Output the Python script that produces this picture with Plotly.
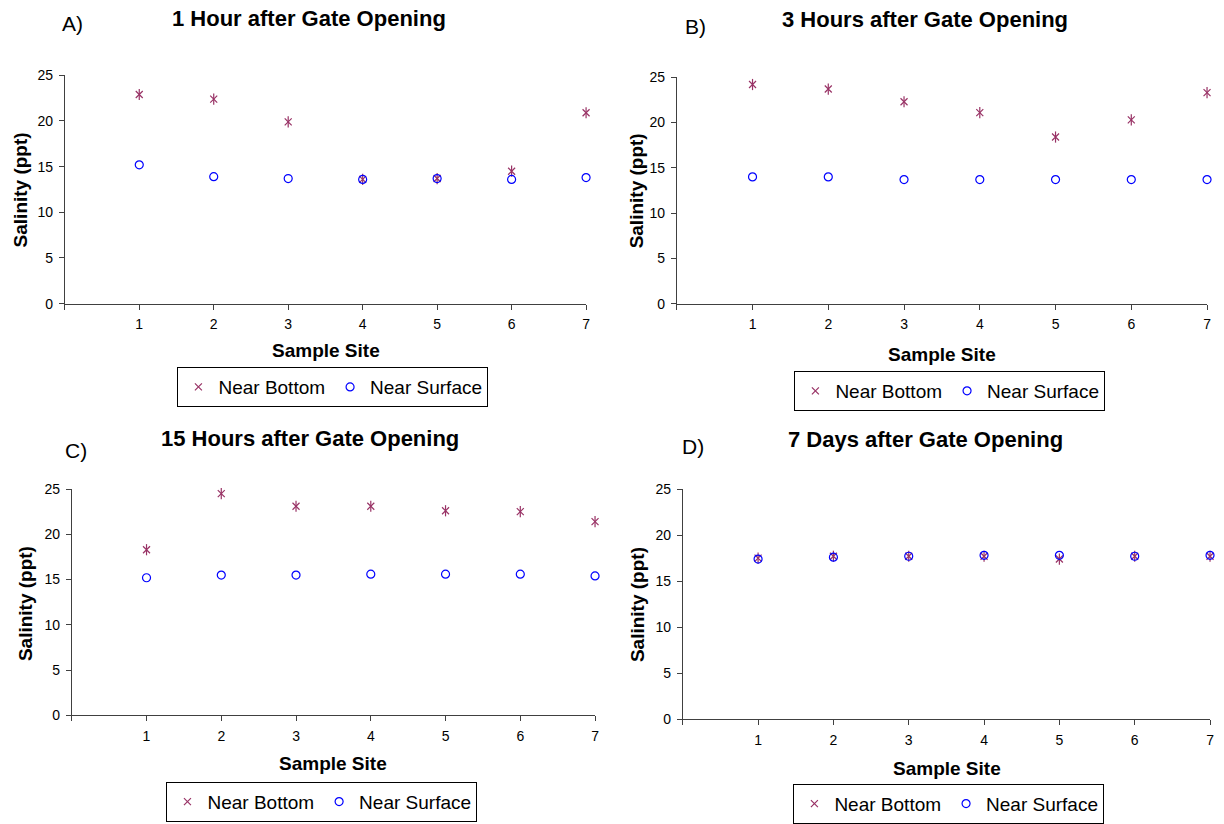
import plotly.graph_objects as go

W, H = 1224, 824

sites = [1, 2, 3, 4, 5, 6, 7]
x_tickvals = [0, 1, 2, 3, 4, 5, 6, 7]
x_ticktext = ["", "1", "2", "3", "4", "5", "6", "7"]

panel_titles = ["1 Hour after Gate Opening", "3 Hours after Gate Opening",
                "15 Hours after Gate Opening", "7 Days after Gate Opening"]
panel_letters = ["A)", "B)", "C)", "D)"]

bottom_a = [22.9, 22.4, 19.9, 13.6, 13.7, 14.5, 20.9]
surface_a = [15.2, 13.9, 13.7, 13.6, 13.7, 13.6, 13.8]
bottom_b = [24.2, 23.7, 22.3, 21.1, 18.4, 20.3, 23.3]
surface_b = [14.0, 14.0, 13.7, 13.7, 13.7, 13.7, 13.7]
bottom_c = [18.3, 24.5, 23.1, 23.1, 22.6, 22.5, 21.4]
surface_c = [15.2, 15.5, 15.5, 15.6, 15.6, 15.6, 15.4]
bottom_d = [17.5, 17.7, 17.7, 17.7, 17.4, 17.7, 17.7]
surface_d = [17.4, 17.6, 17.7, 17.8, 17.8, 17.7, 17.8]

bottoms = [bottom_a, bottom_b, bottom_c, bottom_d]
surfaces = [surface_a, surface_b, surface_c, surface_d]

FONT = "Liberation Sans, Arial, sans-serif"
BOTTOM_COLOR = "#993366"
SURFACE_COLOR = "#0000FF"
AXIS_COLOR = "#404040"


def px(x):
    return x / W


def py(y):
    return 1 - y / H


# plot-area pixel boxes: (left, right, top, bottom)
boxes = [
    (65, 588, 69, 303),
    (679, 1211, 71, 303),
    (72, 597, 493, 725),
    (685, 1214, 493, 729),
]
title_pos = [(310, 11), (928, 12), (311, 441), (929, 442)]
letter_pos = [(73, 16), (698, 19), (76, 453), (695, 449)]
xtitle_pos = [(327, 351), (945, 355), (334, 774), (950, 779)]
ytitle_pos = [(21, 186), (639, 187), (25, 610), (639, 611)]
legend_pos = [(178, 368), (797, 372), (167, 793), (796, 795)]

fig = go.Figure()
layout = dict(
    width=W, height=H,
    margin=dict(l=0, r=0, t=0, b=0),
    paper_bgcolor="white", plot_bgcolor="white",
    font=dict(family=FONT, color="black"),
    annotations=[],
)

for i in range(4):
    n = "" if i == 0 else str(i + 1)
    xa, ya = "x" + n, "y" + n
    leg = "legend" + n
    l, r, t, b = boxes[i]
    layout["xaxis" + n] = dict(
        domain=[px(l), px(r)], anchor=ya, range=[0, 7],
        tickvals=x_tickvals, ticktext=x_ticktext,
        ticks="outside", ticklen=5, tickcolor=AXIS_COLOR,
        showline=True, linecolor=AXIS_COLOR, linewidth=1,
        showgrid=False, zeroline=False,
        tickfont=dict(size=14, family=FONT), ticklabelstandoff=3,
    )
    layout["yaxis" + n] = dict(
        domain=[py(b), py(t)], anchor=xa, range=[0, 25],
        tickvals=[0, 5, 10, 15, 20, 25],
        ticks="outside", ticklen=5, tickcolor=AXIS_COLOR,
        showline=True, linecolor=AXIS_COLOR, linewidth=1,
        showgrid=False, zeroline=False,
        tickfont=dict(size=14, family=FONT), ticklabelstandoff=3,
    )
    lx, ly = legend_pos[i]
    layout[leg] = dict(
        x=px(lx), y=py(ly), xanchor="left", yanchor="top",
        orientation="h", bordercolor="black", borderwidth=1,
        bgcolor="white", itemwidth=30,
        font=dict(size=19, family=FONT, color="black"),
        tracegroupgap=0,
    )

    fig.add_trace(go.Scatter(
        x=sites, y=bottoms[i], mode="markers", name="Near Bottom",
        xaxis=xa, yaxis=ya, legend=leg, cliponaxis=False,
        marker=dict(symbol="x-thin-open", size=7, color=BOTTOM_COLOR,
                    line=dict(color=BOTTOM_COLOR, width=1.2)),
    ))
    fig.add_trace(go.Scatter(
        x=sites, y=bottoms[i], mode="markers", name="Near Bottom",
        xaxis=xa, yaxis=ya, legend=leg, cliponaxis=False, showlegend=False,
        marker=dict(symbol="line-ns-open", size=8, color=BOTTOM_COLOR,
                    line=dict(color=BOTTOM_COLOR, width=1.2)),
    ))
    fig.add_trace(go.Scatter(
        x=sites, y=surfaces[i], mode="markers", name="Near Surface",
        xaxis=xa, yaxis=ya, legend=leg, cliponaxis=False,
        marker=dict(symbol="circle-open", size=8, color=SURFACE_COLOR,
                    line=dict(color=SURFACE_COLOR, width=1.2)),
    ))

    tx, ty = title_pos[i]
    layout["annotations"].append(dict(
        text="<b>" + panel_titles[i] + "</b>", x=px(tx), y=py(ty),
        xref="paper", yref="paper", xanchor="center", yanchor="middle",
        showarrow=False, font=dict(size=22, family=FONT, color="black"),
    ))
    lx2, ly2 = letter_pos[i]
    layout["annotations"].append(dict(
        text=panel_letters[i], x=px(lx2), y=py(ly2),
        xref="paper", yref="paper", xanchor="center", yanchor="middle",
        showarrow=False, font=dict(size=21, family=FONT, color="black"),
    ))
    xx, xy = xtitle_pos[i]
    layout["annotations"].append(dict(
        text="<b>Sample Site</b>", x=px(xx), y=py(xy),
        xref="paper", yref="paper", xanchor="center", yanchor="middle",
        showarrow=False, font=dict(size=19, family=FONT, color="black"),
    ))
    yx, yy = ytitle_pos[i]
    layout["annotations"].append(dict(
        text="<b>Salinity (ppt)</b>", x=px(yx), y=py(yy), textangle=-90,
        xref="paper", yref="paper", xanchor="center", yanchor="middle",
        showarrow=False, font=dict(size=19, family=FONT, color="black"),
    ))

fig.update_layout(**layout)
fig.write_html("out.html")
